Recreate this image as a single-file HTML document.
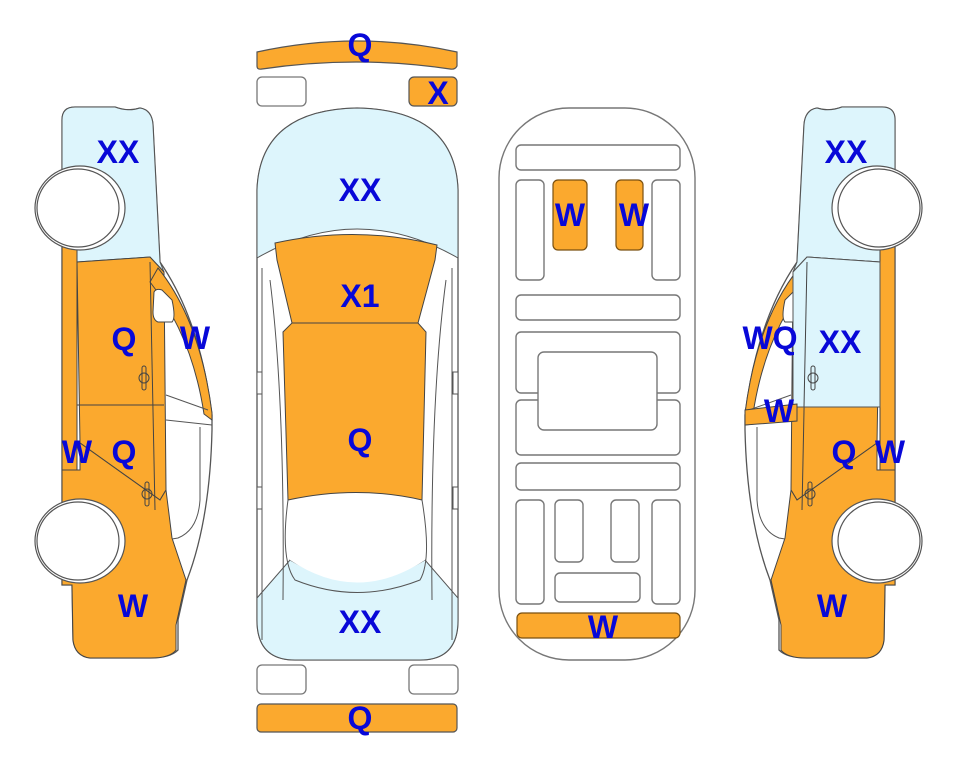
<!DOCTYPE html>
<html><head><meta charset="utf-8"><style>
html,body{margin:0;padding:0;background:#fff;width:963px;height:768px;overflow:hidden}
svg{display:block}
text{font-family:"Liberation Sans",sans-serif;font-weight:bold;font-size:32px;fill:#0808d8;text-anchor:middle}
</style></head><body>
<svg width="963" height="768" viewBox="0 0 963 768" xmlns="http://www.w3.org/2000/svg">
<defs>
<g id="car">
  <path d="M62,240 L62,120 Q62,107 75,107 L115,107 Q128,112 140,108 Q152,110 153,125 L160,262 Q200,320 212,415 L212,430 Q210,520 187,580 L178,620 L178,650 Q170,658 150,658 L90,658 Q75,656 73,640 L72,585 L62,585 Z" fill="#fff" stroke="#555" stroke-width="1.3"/>
  <path d="M62,240 L62,120 Q62,107 75,107 L115,107 Q128,112 140,108 Q152,110 153,125 L160,262 L164,272 L150,257 L77,262 L77,240 Z" fill="#ddf5fc" stroke="#555" stroke-width="1"/>
  <rect x="62" y="240" width="15" height="232" fill="#fba92e" stroke="#444" stroke-width="1"/>
  <path d="M77,262 L150,257 L164,272 L166,490 L160,500 L80,443 Z" fill="#fba92e" stroke="#444" stroke-width="1"/>
  <path d="M62,470 L80,470 L80,443 L160,500 L166,490 L172,538 L186,580 L176,625 L176,650 Q170,658 150,658 L90,658 Q75,656 73,640 L72,585 L62,585 Z" fill="#fba92e" stroke="#444" stroke-width="1"/>
  <path d="M158,268 Q200,320 212,413 L212,420 L204,414 Q192,335 150,282 Z" fill="#fba92e" stroke="#444" stroke-width="1"/>
  <path d="M154,292 Q156,288 162,290 L172,300 Q176,318 172,322 L158,322 Q153,320 153,312 Z" fill="#fff" stroke="#444" stroke-width="1"/>
  <path d="M166,395 L208,410 M166,420 L212,425 M200,427 L200,500 Q198,530 178,538 L172,539" fill="none" stroke="#555" stroke-width="1"/>
  <line x1="77" y1="405" x2="164" y2="405" stroke="#444" stroke-width="1"/>
  <line x1="150" y1="262" x2="155" y2="510" stroke="#444" stroke-width="1"/>
  <rect x="142" y="366" width="4" height="24" rx="2" fill="none" stroke="#444"/>
  <circle cx="144" cy="378" r="5" fill="none" stroke="#444"/>
  <rect x="145" y="482" width="4" height="24" rx="2" fill="none" stroke="#444"/>
  <circle cx="147" cy="494" r="5" fill="none" stroke="#444"/>
  <ellipse cx="80" cy="208" rx="45" ry="42" fill="#fff" stroke="#555" stroke-width="1.2"/>
  <ellipse cx="78" cy="208" rx="41" ry="39" fill="#fff" stroke="#555" stroke-width="1.2"/>
  <ellipse cx="80" cy="541" rx="45" ry="42" fill="#fff" stroke="#555" stroke-width="1.2"/>
  <ellipse cx="78" cy="541" rx="41" ry="39" fill="#fff" stroke="#555" stroke-width="1.2"/>
</g>
</defs>

<use href="#car"/>
<g transform="translate(957,0) scale(-1,1)">
  <use href="#car"/>
  <path d="M77,262 L150,257 L164,272 L164,407 L77,407 Z" fill="#ddf5fc" stroke="#555" stroke-width="1"/>
  <line x1="150" y1="262" x2="153" y2="407" stroke="#444" stroke-width="1"/>
  <rect x="142" y="366" width="4" height="24" rx="2" fill="none" stroke="#444"/>
  <circle cx="144" cy="378" r="5" fill="none" stroke="#444"/>
  <path d="M160,404 L212,410 L212,425 L160,421 Z" fill="#fba92e" stroke="#444" stroke-width="1"/>
</g>

<path d="M257,52 Q357,30 457,52 L457,66 Q455,70 450,69 Q357,55 262,69 Q257,70 257,66 Z" fill="#fba92e" stroke="#555" stroke-width="1.2"/>
<rect x="257" y="77" width="49" height="29" rx="5" fill="#fff" stroke="#777" stroke-width="1.3"/>
<rect x="409" y="77" width="48" height="29" rx="5" fill="#fba92e" stroke="#555" stroke-width="1.2"/>
<rect x="257" y="665" width="49" height="29" rx="5" fill="#fff" stroke="#777" stroke-width="1.3"/>
<rect x="409" y="665" width="49" height="29" rx="5" fill="#fff" stroke="#777" stroke-width="1.3"/>
<rect x="257" y="704" width="200" height="28" rx="4" fill="#fba92e" stroke="#555" stroke-width="1.2"/>

<path d="M257,190 Q260,110 357,108 Q455,110 458,190 L458,620 Q458,660 420,660 L295,660 Q257,660 257,620 Z" fill="#fff" stroke="#555" stroke-width="1.3"/>
<path d="M257,190 Q260,110 357,108 Q455,110 458,190 L458,258 Q357,200 257,258 Z" fill="#ddf5fc" stroke="#555" stroke-width="1"/>
<path d="M257,598 L290,560 Q357,600 425,560 L458,598 L458,620 Q458,660 420,660 L295,660 Q257,660 257,620 Z" fill="#ddf5fc" stroke="#555" stroke-width="1"/>
<path d="M290,545 Q357,600 425,545 L425,560 Q357,605 290,560 Z" fill="#fff"/>
<path d="M275,243 Q357,225 437,245 L435,260 L418,323 L292,323 L277,260 Z" fill="#fba92e" stroke="#444" stroke-width="1"/>
<path d="M292,323 L418,323 L426,332 L422,500 Q357,485 288,500 L283,332 Z" fill="#fba92e" stroke="#444" stroke-width="1"/>
<path d="M262,268 L262,640 M452,268 L452,640 M270,280 Q285,400 283,600 M446,280 Q430,400 432,600 M288,500 Q280,560 295,580 Q357,605 420,580 Q432,560 422,500" fill="none" stroke="#555" stroke-width="1"/>
<rect x="257" y="372" width="5" height="22" fill="#fff" stroke="#555"/>
<rect x="453" y="372" width="5" height="22" fill="#fff" stroke="#555"/>
<rect x="257" y="487" width="5" height="22" fill="#fff" stroke="#555"/>
<rect x="453" y="487" width="5" height="22" fill="#fff" stroke="#555"/>

<g fill="#fff" stroke="#777" stroke-width="1.4">
<rect x="499" y="108" width="196" height="552" rx="70"/>
<rect x="516" y="145" width="164" height="25" rx="5"/>
<rect x="516" y="180" width="28" height="100" rx="5"/>
<rect x="652" y="180" width="28" height="100" rx="5"/>
<rect x="516" y="295" width="164" height="25" rx="5"/>
<rect x="516" y="332" width="164" height="61" rx="5"/>
<rect x="516" y="400" width="164" height="55" rx="5"/>
<rect x="538" y="352" width="119" height="78" rx="6"/>
<rect x="516" y="463" width="164" height="27" rx="5"/>
<rect x="516" y="500" width="28" height="104" rx="5"/>
<rect x="555" y="500" width="28" height="62" rx="5"/>
<rect x="611" y="500" width="28" height="62" rx="5"/>
<rect x="652" y="500" width="28" height="104" rx="5"/>
<rect x="555" y="573" width="85" height="29" rx="5"/>
</g>
<g fill="#fba92e" stroke="#7a5010" stroke-width="1.2">
<rect x="553" y="180" width="34" height="70" rx="5"/>
<rect x="616" y="180" width="27" height="70" rx="5"/>
<rect x="517" y="613" width="163" height="25" rx="5"/>
</g>

<text x="118" y="163">XX</text>
<text x="124" y="350">Q</text>
<text x="195" y="349">W</text>
<text x="77" y="463">W</text>
<text x="124" y="463">Q</text>
<text x="133" y="617">W</text>

<text x="360" y="56">Q</text>
<text x="438" y="104">X</text>
<text x="360" y="201">XX</text>
<text x="360" y="307">X1</text>
<text x="360" y="451">Q</text>
<text x="360" y="633">XX</text>
<text x="360" y="729">Q</text>

<text x="570" y="226">W</text>
<text x="634" y="226">W</text>
<text x="603" y="638">W</text>

<text x="846" y="163">XX</text>
<text x="770" y="349">WQ</text>
<text x="840" y="353">XX</text>
<text x="779" y="422">W</text>
<text x="844" y="463">Q</text>
<text x="890" y="463">W</text>
<text x="832" y="617">W</text>
</svg>
</body></html>
